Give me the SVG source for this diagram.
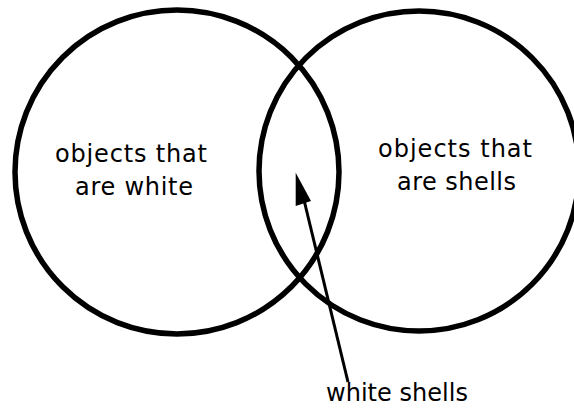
<svg xmlns="http://www.w3.org/2000/svg" width="574" height="409" viewBox="0 0 574 409">
<style>
.set{fill:none;stroke:#000;stroke-width:5.5}
.lbl{font-family:"DejaVu Sans","Liberation Sans",sans-serif;font-size:24px;fill:#000;text-anchor:middle}
.conn{stroke:#000;stroke-width:3;fill:none}
</style>
<rect width="574" height="409" fill="#fff"/>
<g id="white">
<circle class="set" cx="177" cy="172" r="162"/>
<text class="lbl" x="131" y="161.5" textLength="152" lengthAdjust="spacing">objects that</text>
<text class="lbl" x="134" y="195" textLength="118" lengthAdjust="spacing">are white</text>
</g>
<g id="shells">
<circle class="set" cx="419" cy="171" r="160"/>
<text class="lbl" x="455" y="157" textLength="154" lengthAdjust="spacing">objects that</text>
<text class="lbl" x="456.5" y="189.5" textLength="119" lengthAdjust="spacing">are shells</text>
</g>
<g id="intersection">
<text class="lbl" x="397" y="401" textLength="142" lengthAdjust="spacing">white shells</text>
</g>
<g id="connectors">
<line class="conn" x1="348" y1="382" x2="304" y2="200"/>
<polygon points="295.7,172.7 295.7,206 311,201" fill="#000"/>
</g>
</svg>
